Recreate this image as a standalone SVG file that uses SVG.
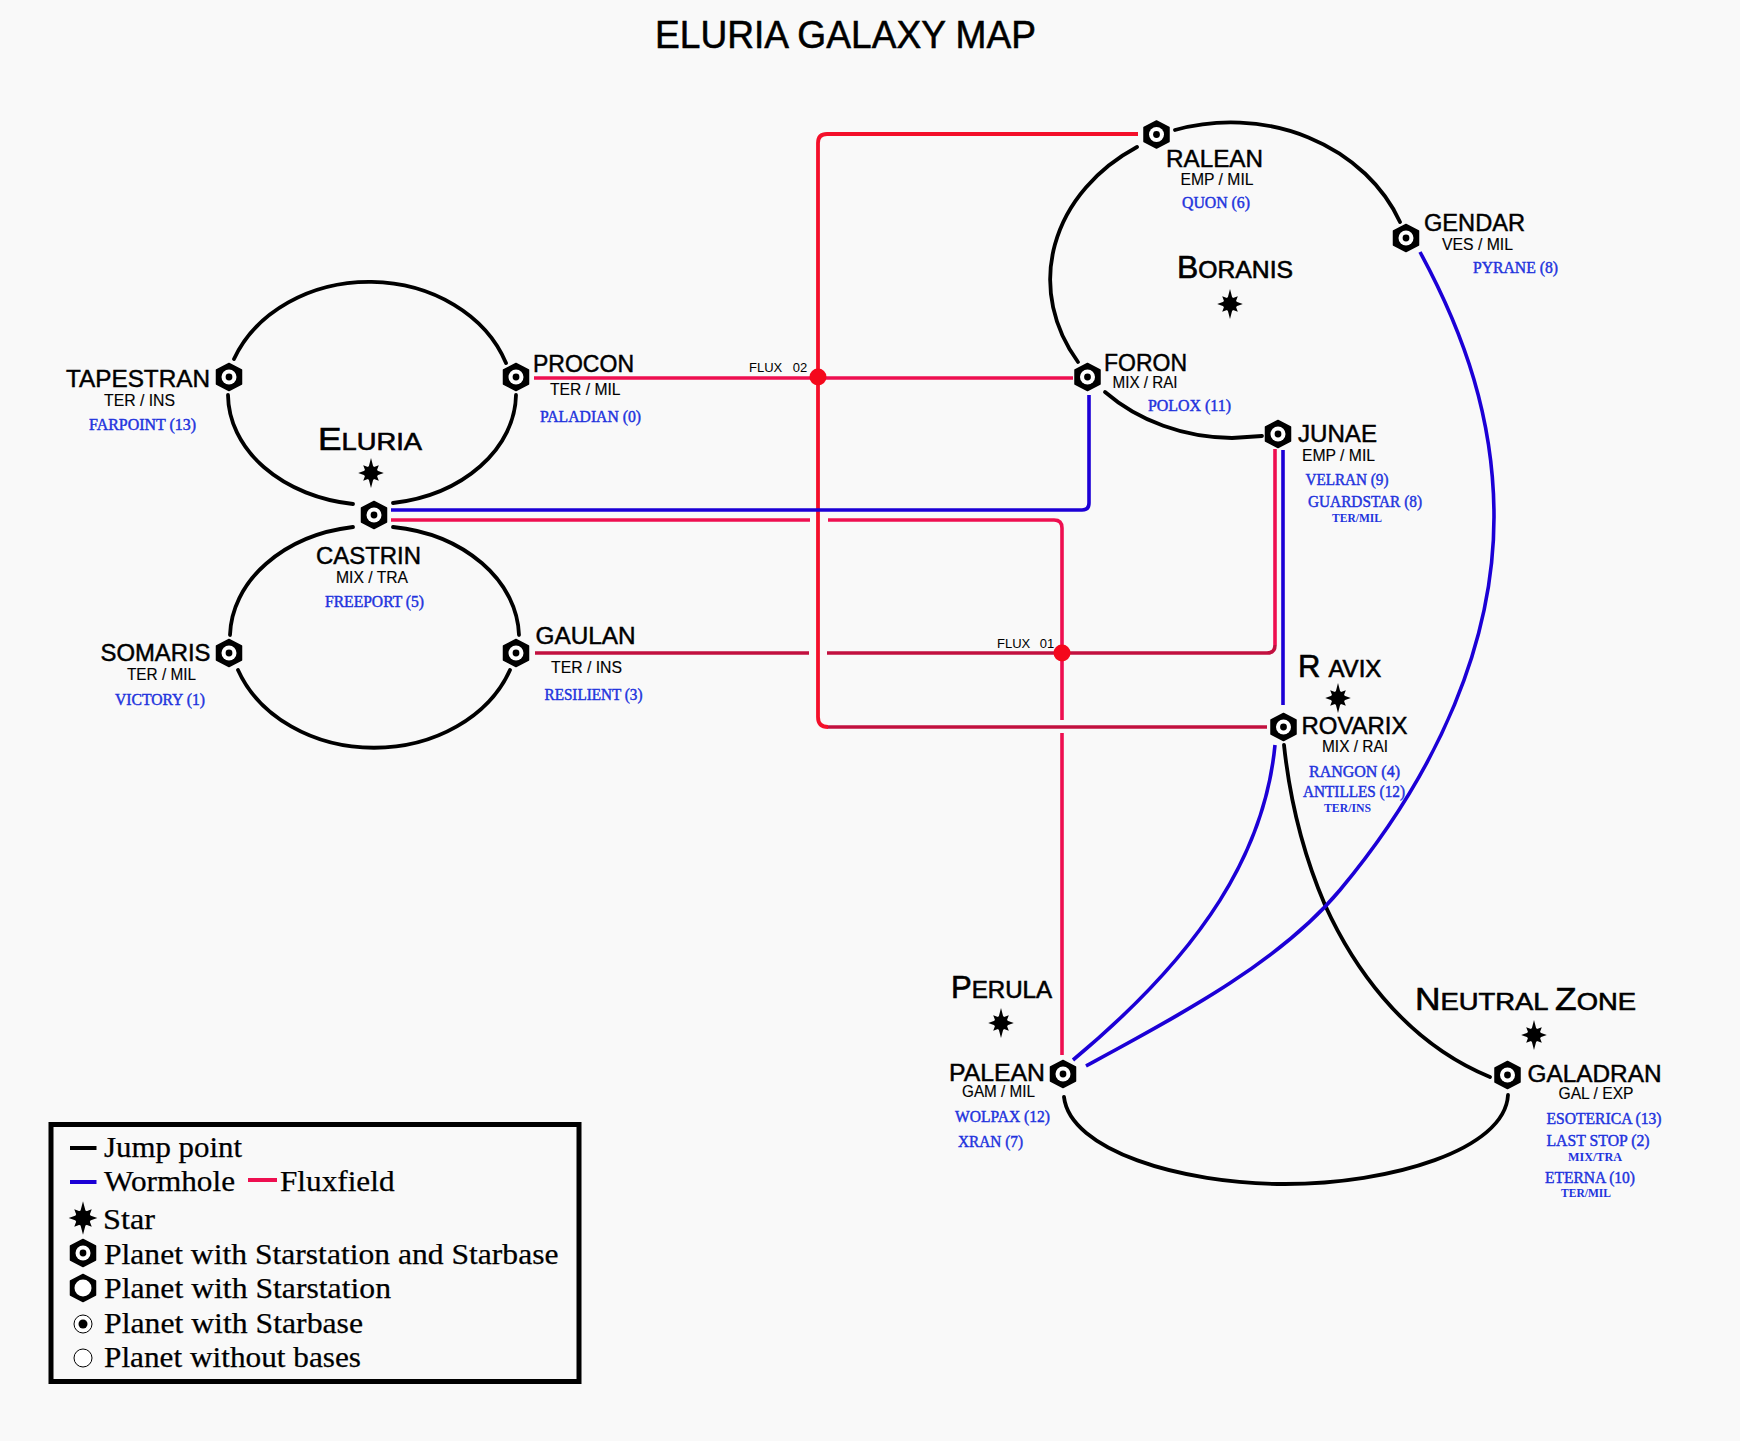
<svg xmlns="http://www.w3.org/2000/svg" xmlns:xlink="http://www.w3.org/1999/xlink" width="1740" height="1441" viewBox="0 0 1740 1441">
<style>
text{font-family:"Liberation Sans",Arial,sans-serif;fill:#000}
.title{font-size:38px;stroke:#000;stroke-width:.55px}
.n{font-size:23px;stroke:#000;stroke-width:.45px}
.s{font-size:16.5px;stroke:#000;stroke-width:.15px}
.f{font-size:13px}
.b{font-size:31px}
.r{font-size:24px;stroke:#000;stroke-width:.6px}
.p{font-family:"Liberation Serif","Times New Roman",serif;font-size:16px;fill:#2233dd;stroke:#2233dd;stroke-width:.45px}
.q{font-family:"Liberation Serif","Times New Roman",serif;font-size:12.5px;font-weight:bold;fill:#2233dd}
.l{font-family:"Liberation Serif","Times New Roman",serif;font-size:30px;fill:#000;stroke:#000;stroke-width:.25px}
.j{fill:none;stroke:#000;stroke-width:3.8;stroke-linecap:round}
.w{fill:none;stroke:#1c00d6;stroke-width:3.6}
.x{fill:none;stroke:#ee0f50;stroke-width:3.6}
.xd{fill:none;stroke:#c2103f;stroke-width:3.6}
.xr{fill:none;stroke:#f40f2a;stroke-width:3.8}
.hex{fill:#000;stroke:#000;stroke-width:1.500;stroke-linejoin:round}
</style>
<defs>
<polygon id="nut" class="hex" points="0,-13.500 12.500,-7 12.500,7 0,13.500 -12.500,7 -12.500,-7"/>
<g id="station"><use href="#nut"/><circle r="8.500" fill="#fff"/></g>
<g id="planet"><use href="#nut"/><circle r="7.500" fill="#fff"/><circle r="3.400" fill="#000"/></g>
<g id="star"><polygon fill="#000" points="0,-15 2.400,-5.800 7.800,-7.800 5.800,-2.400 12.800,0 5.800,2.400 7.800,7.800 2.400,5.800 0,15 -2.400,5.800 -7.800,7.800 -5.800,2.400 -12.800,0 -5.800,-2.400 -7.800,-7.800 -2.400,-5.800"/><circle r="7" fill="#000"/></g>
</defs>
<rect width="1740" height="1441" fill="#f9f9f9"/>
<text id="title" class="title" x="655" y="48" textLength="381" lengthAdjust="spacingAndGlyphs">ELURIA GALAXY MAP</text>
<g id="connectors">
<path class="j" d="M234,359 A145,121 0 0 1 506,363"/>
<path class="j" d="M228,395 A145,111 0 0 0 353,504"/>
<path class="j" d="M516,395 A145,111 0 0 1 393,503"/>
<path class="j" d="M230,635 A145,112 0 0 1 353,527"/>
<path class="j" d="M393,527 A145,112 0 0 1 519,635"/>
<path class="j" d="M238,670 A145,119 0 0 0 510,670"/>
<path class="j" d="M1175,130 A182,158 0 0 1 1400,222"/>
<path class="j" d="M1137,147 A190,158 0 0 0 1078,362"/>
<path class="j" d="M1105,392 A182,158 0 0 0 1232,438 L1262,436"/>
<path class="j" d="M1284,745 C1292,820 1310,870 1325,905 C1350,960 1400,1040 1490,1077"/>
<path class="j" d="M1064,1097 C1070,1150 1180,1184 1285,1184 C1390,1184 1505,1150 1508,1095"/>
<path class="x" d="M534,378 H1073"/>
<path class="xr" d="M1138,134 H827 Q818,134 818,143 V717 Q818,727 828,727"/>
<path class="xd" d="M828,727 H1267"/>
<path class="x" d="M391,520 H810 M828,520 H1054 Q1062,520 1062,528 V720 M1062,733 V1055"/>
<path class="xd" d="M535,653 H809 M827,653 H1267 Q1275,653 1275,645"/>
<path class="x" d="M1275,645 V449"/>
<path class="w" d="M391,510 H1082 Q1089,510 1089,503 V395"/>
<path class="w" d="M1283,450 V705"/>
<path class="w" d="M1420,252 C1465,335 1494,420 1494,517 C1494,640 1440,770 1340,890 C1280,962 1180,1015 1086,1066"/>
<path class="w" d="M1275,745 C1265,850 1205,950 1073,1060"/>
<circle cx="818" cy="377" r="8.500" fill="#f4081c"/>
<circle cx="1062" cy="653" r="8.500" fill="#f4081c"/>
</g>
<g id="flux-labels">
<text class="f" x="749" y="372" word-spacing="7">FLUX 02</text>
<text class="f" x="997" y="648" word-spacing="6">FLUX 01</text>
</g>
<g id="star-eluria"><use href="#star" x="371" y="473"/><text class="r" x="318" y="450" textLength="104" lengthAdjust="spacingAndGlyphs"><tspan class="b">E</tspan>LURIA</text></g>
<g id="star-boranis"><use href="#star" x="1230" y="304"/><text class="r" x="1177" y="278" textLength="116" lengthAdjust="spacingAndGlyphs"><tspan class="b">B</tspan>ORANIS</text></g>
<g id="star-ravix"><use href="#star" x="1338" y="698"/><text class="r" x="1298" y="677"><tspan class="b">R</tspan><tspan dx="8">AVIX</tspan></text></g>
<g id="star-perula"><use href="#star" x="1001" y="1023"/><text class="r" x="951" y="998" textLength="101" lengthAdjust="spacingAndGlyphs"><tspan class="b">P</tspan>ERULA</text></g>
<g id="star-neutral"><use href="#star" x="1534" y="1035"/><text class="r" x="1415" y="1010" textLength="221" lengthAdjust="spacingAndGlyphs"><tspan class="b">N</tspan>EUTRAL <tspan class="b">Z</tspan>ONE</text></g>
<g id="node-tapestran"><use href="#planet" x="229" y="377"/>
<text class="n" x="66" y="386.500" textLength="144" lengthAdjust="spacingAndGlyphs">TAPESTRAN</text>
<text class="s" x="104" y="406" textLength="71" lengthAdjust="spacingAndGlyphs">TER / INS</text>
<text class="p" x="89" y="430" textLength="107" lengthAdjust="spacingAndGlyphs">FARPOINT (13)</text></g>
<g id="node-procon"><use href="#planet" x="516" y="377"/>
<text class="n" x="533" y="372" textLength="101" lengthAdjust="spacingAndGlyphs">PROCON</text>
<text class="s" x="550" y="395" textLength="70.500" lengthAdjust="spacingAndGlyphs">TER / MIL</text>
<text class="p" x="540" y="422" textLength="101" lengthAdjust="spacingAndGlyphs">PALADIAN (0)</text></g>
<g id="node-castrin"><use href="#planet" x="374" y="515"/>
<text class="n" x="316" y="564" textLength="105" lengthAdjust="spacingAndGlyphs">CASTRIN</text>
<text class="s" x="336" y="582.500" textLength="72" lengthAdjust="spacingAndGlyphs">MIX / TRA</text>
<text class="p" x="325" y="607" textLength="99" lengthAdjust="spacingAndGlyphs">FREEPORT (5)</text></g>
<g id="node-somaris"><use href="#planet" x="229" y="653"/>
<text class="n" x="100.500" y="661" textLength="110" lengthAdjust="spacingAndGlyphs">SOMARIS</text>
<text class="s" x="127" y="680" textLength="69" lengthAdjust="spacingAndGlyphs">TER / MIL</text>
<text class="p" x="115" y="705" textLength="90" lengthAdjust="spacingAndGlyphs">VICTORY (1)</text></g>
<g id="node-gaulan"><use href="#planet" x="516" y="653"/>
<text class="n" x="535.500" y="644" textLength="100" lengthAdjust="spacingAndGlyphs">GAULAN</text>
<text class="s" x="551" y="672.500" textLength="71" lengthAdjust="spacingAndGlyphs">TER / INS</text>
<text class="p" x="544.500" y="700" textLength="98" lengthAdjust="spacingAndGlyphs">RESILIENT (3)</text></g>
<g id="node-ralean"><use href="#planet" x="1156.500" y="134.500"/>
<text class="n" x="1166" y="166.500" textLength="97" lengthAdjust="spacingAndGlyphs">RALEAN</text>
<text class="s" x="1180.500" y="185" textLength="73" lengthAdjust="spacingAndGlyphs">EMP / MIL</text>
<text class="p" x="1182" y="208" textLength="68" lengthAdjust="spacingAndGlyphs">QUON (6)</text></g>
<g id="node-gendar"><use href="#planet" x="1406" y="238"/>
<text class="n" x="1424" y="231" textLength="101" lengthAdjust="spacingAndGlyphs">GENDAR</text>
<text class="s" x="1442" y="250" textLength="71" lengthAdjust="spacingAndGlyphs">VES / MIL</text>
<text class="p" x="1473" y="273" textLength="85" lengthAdjust="spacingAndGlyphs">PYRANE (8)</text></g>
<g id="node-foron"><use href="#planet" x="1087.500" y="377"/>
<text class="n" x="1104" y="371" textLength="83" lengthAdjust="spacingAndGlyphs">FORON</text>
<text class="s" x="1112.500" y="387.500" textLength="65" lengthAdjust="spacingAndGlyphs">MIX / RAI</text>
<text class="p" x="1148" y="410.500" textLength="83" lengthAdjust="spacingAndGlyphs">POLOX (11)</text></g>
<g id="node-junae"><use href="#planet" x="1278" y="434"/>
<text class="n" x="1298" y="442" textLength="79" lengthAdjust="spacingAndGlyphs">JUNAE</text>
<text class="s" x="1302" y="461" textLength="73" lengthAdjust="spacingAndGlyphs">EMP / MIL</text>
<text class="p" x="1305.500" y="485" textLength="83" lengthAdjust="spacingAndGlyphs">VELRAN (9)</text>
<text class="p" x="1308" y="507" textLength="114" lengthAdjust="spacingAndGlyphs">GUARDSTAR (8)</text>
<text class="q" x="1332" y="521.500" textLength="50" lengthAdjust="spacingAndGlyphs">TER/MIL</text></g>
<g id="node-rovarix"><use href="#planet" x="1283.500" y="727"/>
<text class="n" x="1301.500" y="734" textLength="106" lengthAdjust="spacingAndGlyphs">ROVARIX</text>
<text class="s" x="1322" y="752" textLength="66" lengthAdjust="spacingAndGlyphs">MIX / RAI</text>
<text class="p" x="1309" y="777" textLength="91" lengthAdjust="spacingAndGlyphs">RANGON (4)</text>
<text class="p" x="1303" y="797" textLength="102" lengthAdjust="spacingAndGlyphs">ANTILLES (12)</text>
<text class="q" x="1324" y="811.500" textLength="47" lengthAdjust="spacingAndGlyphs">TER/INS</text></g>
<g id="node-palean"><use href="#planet" x="1063" y="1074"/>
<text class="n" x="949" y="1081" textLength="96" lengthAdjust="spacingAndGlyphs">PALEAN</text>
<text class="s" x="962" y="1097" textLength="73" lengthAdjust="spacingAndGlyphs">GAM / MIL</text>
<text class="p" x="955" y="1121.500" textLength="95" lengthAdjust="spacingAndGlyphs">WOLPAX (12)</text>
<text class="p" x="958" y="1146.500" textLength="65" lengthAdjust="spacingAndGlyphs">XRAN (7)</text></g>
<g id="node-galadran"><use href="#planet" x="1507.500" y="1075"/>
<text class="n" x="1527.500" y="1081.500" textLength="134" lengthAdjust="spacingAndGlyphs">GALADRAN</text>
<text class="s" x="1558.500" y="1099" textLength="75" lengthAdjust="spacingAndGlyphs">GAL / EXP</text>
<text class="p" x="1546.500" y="1124" textLength="115" lengthAdjust="spacingAndGlyphs">ESOTERICA (13)</text>
<text class="p" x="1546.500" y="1146" textLength="103" lengthAdjust="spacingAndGlyphs">LAST STOP (2)</text>
<text class="q" x="1568" y="1161" textLength="54" lengthAdjust="spacingAndGlyphs">MIX/TRA</text>
<text class="p" x="1545" y="1182.500" textLength="90" lengthAdjust="spacingAndGlyphs">ETERNA (10)</text>
<text class="q" x="1561" y="1196.500" textLength="50" lengthAdjust="spacingAndGlyphs">TER/MIL</text></g>
<g id="legend">
<rect x="51" y="1124.500" width="528" height="257" fill="none" stroke="#000" stroke-width="5"/>
<path d="M70,1148 H96.500" stroke="#000" stroke-width="4"/>
<text class="l" x="104" y="1157" textLength="138" lengthAdjust="spacingAndGlyphs">Jump point</text>
<path d="M70,1182 H96.500" stroke="#1c00d6" stroke-width="4"/>
<text class="l" x="104" y="1191" textLength="131" lengthAdjust="spacingAndGlyphs">Wormhole</text>
<path d="M248,1180 H277" stroke="#ee0f50" stroke-width="4"/>
<text class="l" x="280" y="1191" textLength="114.500" lengthAdjust="spacingAndGlyphs">Fluxfield</text>
<use href="#star" transform="translate(83,1218) scale(1.120)"/>
<text class="l" x="103" y="1229" textLength="52" lengthAdjust="spacingAndGlyphs">Star</text>
<use href="#planet" x="83" y="1253"/>
<text class="l" x="104" y="1264" textLength="454.500" lengthAdjust="spacingAndGlyphs">Planet with Starstation and Starbase</text>
<use href="#station" x="83" y="1288"/>
<text class="l" x="104" y="1298" textLength="287" lengthAdjust="spacingAndGlyphs">Planet with Starstation</text>
<circle cx="83" cy="1324" r="9" fill="#fff" stroke="#000" stroke-width="1"/><circle cx="83" cy="1324" r="4.500" fill="#000"/>
<text class="l" x="104" y="1333" textLength="259" lengthAdjust="spacingAndGlyphs">Planet with Starbase</text>
<circle cx="83" cy="1358" r="9" fill="#fff" stroke="#000" stroke-width="1"/>
<text class="l" x="104" y="1367" textLength="257" lengthAdjust="spacingAndGlyphs">Planet without bases</text>
</g>
</svg>
